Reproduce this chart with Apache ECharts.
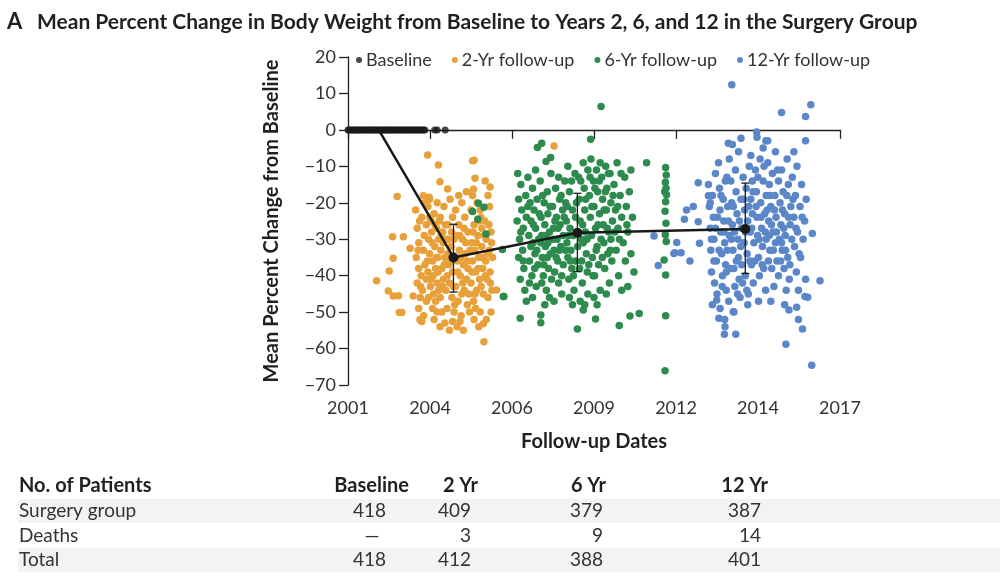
<!DOCTYPE html>
<html>
<head>
<meta charset="utf-8">
<title>Mean Percent Change in Body Weight</title>
<script src="https://cdn.jsdelivr.net/npm/echarts@6/dist/echarts.min.js"></script>
<style>
html, body { margin: 0; padding: 0; background: #fff; }
#container { width: 1000px; height: 587px; }
</style>
</head>
<body>
<div id="container"></div>
<script>
// x tick positions (evenly spaced dates), labels are rounded years
var xTicks = [2001, 2003.667, 2006.333, 2009, 2011.667, 2014.333, 2017];

var baselineX = [2001.0, 2001.04, 2001.09, 2001.13, 2001.18, 2001.22, 2001.27, 2001.31, 2001.36, 2001.4,
    2001.45, 2001.5, 2001.54, 2001.59, 2001.63, 2001.68, 2001.72, 2001.77, 2001.81, 2001.86, 2001.9,
    2001.95, 2002.0, 2002.04, 2002.09, 2002.13, 2002.18, 2002.22, 2002.27, 2002.31, 2002.36, 2002.4,
    2002.45, 2002.5, 2002.54, 2002.59, 2002.63, 2002.68, 2002.72, 2002.77, 2002.81, 2002.86, 2002.9,
    2002.95, 2003.0, 2003.04, 2003.09, 2003.13, 2003.18, 2003.22, 2003.27, 2003.31, 2003.36, 2003.4,
    2003.45, 2003.5, 2003.82, 2003.9, 2004.16];

var yr2 = [
    [2003.59,-6.9],[2003.94,-9.6],[2005.05,-8.5],[2005.1,-8.3],[2005.13,-13.3],[2003.99,-14.2],[2005.46,-14],
    [2004.24,-16.2],[2005.62,-15.7],[2005.08,-16.3],[2002.6,-18.3],[2003.45,-18.1],[2003.64,-18.5],[2002.45,-29.3],
    [2002.8,-29.3],[2003.02,-32.5],[2002.47,-35.2],[2002.34,-38.7],[2001.93,-41.4],[2002.31,-44.2],[2002.47,-45.6],
    [2002.64,-45.5],[2003.12,-45.6],[2002.67,-50.1],[2002.75,-50.1],[2003.34,-52.1],[2003.4,-52.6],[2003.99,-54],
    [2004.4,-52.6],[2004.64,-52.6],[2005.4,-53.2],[2005.42,-58.1],[2005.83,-43.9],[2007.7,-4.4],
    [2003.2,-22],[2003.25,-27],[2003.3,-31],[2003.22,-35],[2003.3,-38],[2003.25,-42],[2003.35,-46],[2003.3,-49],
    [2003.4,-24],[2003.45,-33],[2003.38,-40],[2003.42,-44],[2003.5,-20],[2003.48,-29],[2003.5,-37],[2003.46,-51],
    [2003.55,-26],[2003.55,-47],
    [2003.6,-21],[2003.62,-30],[2003.65,-34],[2003.6,-39],[2003.68,-43],[2003.7,-25],[2003.72,-28],[2003.75,-36],
    [2003.7,-41],[2003.78,-45],[2003.75,-49],[2003.8,-23],[2003.82,-32],[2003.85,-38],[2003.88,-27],[2003.9,-42],
    [2003.85,-47],[2003.92,-35],[2003.95,-30],[2003.95,-44],[2003.65,-19],[2003.9,-20],[2003.8,-52],
    [2004.0,-24],[2004.02,-33],[2004.05,-38],[2004.0,-46],[2004.08,-28],[2004.1,-41],[2004.12,-21],[2004.15,-35],
    [2004.18,-44],[2004.2,-30],[2004.22,-49],[2004.25,-26],[2004.28,-37],[2004.3,-42],[2004.32,-19],[2004.35,-32],
    [2004.38,-46],[2004.4,-24],[2004.05,-50],[2004.15,-53],[2004.3,-55],[2004.4,-39],[2004.1,-31],[2004.25,-34],
    [2004.5,-22],[2004.52,-29],[2004.55,-36],[2004.5,-43],[2004.58,-47],[2004.6,-26],[2004.62,-33],[2004.65,-40],
    [2004.68,-51],[2004.7,-20],[2004.72,-30],[2004.75,-37],[2004.78,-44],[2004.8,-24],[2004.82,-34],[2004.85,-41],
    [2004.88,-48],[2004.9,-28],[2004.9,-38],[2004.55,-54],[2004.75,-55],[2004.6,-18],[2004.85,-17],[2004.7,-45],
    [2005.0,-22],[2005.02,-31],[2005.05,-36],[2005.0,-42],[2005.08,-47],[2005.1,-26],[2005.12,-33],[2005.15,-39],
    [2005.18,-44],[2005.2,-20],[2005.22,-29],[2005.25,-35],[2005.28,-41],[2005.3,-50],[2005.32,-24],[2005.35,-32],
    [2005.38,-38],[2005.4,-45],[2005.1,-52],[2005.25,-54],[2005.35,-27],[2005.05,-18],[2005.3,-22],[2005.15,-49],
    [2005.45,-25],[2005.5,-30],[2005.48,-36],[2005.52,-41],[2005.55,-46],[2005.6,-21],[2005.6,-33],[2005.62,-39],
    [2005.65,-28],[2005.68,-44],[2005.7,-35],[2005.55,-18],[2005.65,-50],[2005.5,-52],
    [2003.28,-33],[2003.33,-25],[2003.36,-43],[2003.58,-36],[2003.62,-46],[2003.66,-24],[2003.74,-31],[2003.77,-40],
    [2003.83,-26],[2003.87,-35],[2003.93,-39],[2003.97,-25],[2004.03,-29],[2004.07,-43],[2004.13,-37],[2004.17,-26],
    [2004.23,-40],[2004.27,-30],[2004.33,-36],[2004.37,-28],[2004.43,-43],[2004.45,-30],[2004.47,-48],[2004.57,-39],
    [2004.63,-29],[2004.67,-35],[2004.73,-42],[2004.77,-27],[2004.83,-31],[2004.87,-36],[2004.93,-45],[2004.97,-33],
    [2005.03,-39],[2005.07,-28],[2005.13,-45],[2005.17,-31],[2005.23,-38],[2005.27,-25],[2005.33,-43],[2005.37,-35],
    [2005.43,-29],[2005.47,-40],[2005.53,-34],[2005.58,-26],[2005.63,-42],[2005.67,-31],[2003.9,-50],[2004.45,-50],
    [2004.95,-50],[2003.55,-41]
];

var yr6 = [
    [2005.24,-20.1],[2005.42,-21.2],[2005.05,-22.4],[2005.22,-24.5],[2005.49,-28.6],[2006.05,-45.7],[2006.02,-32.8],
    [2009.23,6.4],[2008.89,-2.6],[2007.16,-4.8],[2007.3,-3.7],[2007.44,-8.7],[2007.59,-7.6],[2010.71,-9],
    [2006.07,-45.7],[2006.6,-51.7],[2007.27,-50.8],[2007.27,-52.9],[2008.46,-54.6],[2009.05,-51.9],[2009.82,-53.7],
    [2010.17,-51.1],[2010.47,-50.4],[2008.65,-49.4],
    [2011.33,-10.3],[2011.35,-12.4],[2011.32,-14.4],[2011.34,-16],[2011.3,-17],[2011.36,-17.8],[2011.33,-19.7],
    [2011.31,-22.3],[2011.34,-25.6],[2011.32,-28.8],[2011.35,-30.6],[2011.28,-35.7],[2011.33,-39.8],[2011.33,-51],
    [2011.31,-66.1],
    [2006.52,-12],[2006.55,-19],[2006.5,-25],[2006.58,-30],[2006.55,-35],[2006.6,-41],[2006.62,-15],[2006.65,-22],
    [2006.7,-27],[2006.68,-33],[2006.72,-38],[2006.75,-44],[2006.78,-18],[2006.8,-24],[2006.8,-47],
    [2006.85,-13],[2006.88,-29],[2006.9,-36],[2006.92,-20],[2006.95,-25],[2006.98,-40],[2007.0,-16],[2007.02,-31],
    [2007.05,-22],[2007.08,-34],[2007.1,-27],[2007.12,-43],[2007.15,-19],[2007.18,-37],[2007.2,-30],[2007.0,-46],
    [2007.1,-11],[2006.95,-32],
    [2007.25,-14],[2007.28,-24],[2007.3,-29],[2007.32,-35],[2007.35,-40],[2007.38,-20],[2007.4,-26],[2007.42,-32],
    [2007.45,-44],[2007.48,-17],[2007.5,-23],[2007.52,-38],[2007.55,-28],[2007.58,-34],[2007.6,-12],[2007.4,-48],
    [2007.55,-46],[2007.3,-42],[2007.5,-31],
    [2007.65,-21],[2007.68,-27],[2007.7,-33],[2007.72,-39],[2007.75,-16],[2007.78,-24],[2007.8,-30],[2007.82,-36],
    [2007.85,-42],[2007.88,-19],[2007.9,-26],[2007.92,-32],[2007.95,-45],[2007.98,-22],[2008.0,-29],[2008.0,-37],
    [2007.7,-47],[2007.85,-13],[2007.95,-40],
    [2008.05,-14],[2008.08,-20],[2008.1,-25],[2008.12,-31],[2008.15,-35],[2008.18,-41],[2008.2,-17],[2008.22,-27],
    [2008.25,-33],[2008.28,-38],[2008.3,-22],[2008.32,-29],[2008.35,-44],[2008.38,-12],[2008.4,-24],[2008.4,-36],
    [2008.2,-46],[2008.15,-10],[2008.3,-48],
    [2008.5,-13],[2008.52,-19],[2008.55,-25],[2008.58,-30],[2008.6,-36],[2008.62,-42],[2008.65,-9],[2008.68,-16],
    [2008.7,-22],[2008.72,-28],[2008.75,-34],[2008.78,-39],[2008.8,-11],[2008.8,-45],[2008.55,-47],[2008.7,-48],
    [2008.65,-31],
    [2008.85,-18],[2008.88,-24],[2008.9,-8],[2008.92,-29],[2008.95,-35],[2008.98,-14],[2009.0,-21],[2009.02,-40],
    [2009.05,-27],[2009.08,-11],[2009.1,-32],[2009.12,-17],[2009.15,-37],[2009.18,-23],[2009.2,-44],[2009.0,-46],
    [2009.2,-9],[2009.1,-48],
    [2009.25,-13],[2009.28,-19],[2009.3,-26],[2009.32,-31],[2009.35,-38],[2009.38,-10],[2009.4,-22],[2009.42,-16],
    [2009.45,-34],[2009.48,-28],[2009.5,-42],[2009.52,-12],[2009.55,-20],[2009.58,-36],[2009.6,-25],[2009.4,-45],
    [2009.55,-30],
    [2009.65,-15],[2009.7,-22],[2009.72,-33],[2009.75,-9],[2009.78,-27],[2009.8,-40],[2009.85,-18],[2009.9,-24],
    [2009.95,-31],[2010.0,-13],[2010.02,-36],[2010.05,-21],[2010.1,-28],[2010.15,-17],[2010.2,-34],[2010.25,-24],
    [2010.3,-39],[2010.2,-11],[2009.9,-44],[2010.1,-43],
    [2006.62,-28],[2006.7,-36],[2006.85,-21],[2006.9,-42],[2007.03,-26],[2007.07,-38],[2007.14,-33],[2007.22,-23],
    [2007.27,-31],[2007.33,-18],[2007.37,-37],[2007.45,-29],[2007.48,-35],[2007.57,-21],[2007.62,-41],[2007.67,-30],
    [2007.73,-25],[2007.77,-35],[2007.83,-27],[2007.87,-33],[2007.93,-18],[2008.03,-24],[2008.07,-33],[2008.13,-21],
    [2008.17,-29],[2008.23,-36],[2008.27,-14],[2008.33,-40],[2008.43,-20],[2008.47,-32],[2008.53,-38],[2008.57,-14],
    [2008.63,-26],[2008.73,-19],[2008.77,-30],[2008.83,-37],[2008.87,-13],[2008.93,-21],[2008.97,-40],[2009.03,-16],
    [2009.07,-33],[2009.13,-26],[2009.17,-14],[2009.23,-30],[2009.27,-35],[2009.33,-22],[2009.37,-17],[2009.43,-27],
    [2009.47,-12],[2009.53,-33],[2009.62,-18],[2009.68,-28],[2009.77,-21],[2009.83,-30],[2009.88,-12],[2010.07,-26]
];

var yr12 = [
    [2010.95,-29.1],[2011.69,-30.9],[2011.6,-33.9],[2011.09,-37.2],
    [2013.48,12.4],[2015.1,4.8],[2016.05,6.9],[2015.88,3.7],[2014.29,-0.6],[2013.37,-3.7],[2013.78,-2.3],
    [2014.59,-3],[2014.65,-3],[2015.88,-3],[2012.39,-14.5],[2012.72,-18.1],[2012.01,-22],[2012.23,-21],
    [2011.94,-24.5],[2012.39,-25.2],[2011.83,-33.7],[2011.63,-33.7],[2012.12,-36],[2012.43,-31.1],[2016.1,-28.4],
    [2016.35,-41.4],[2012.99,-46.7],[2013.06,-51.7],[2013.24,-56.1],[2013.61,-56.1],[2013.26,-54],[2015.24,-58.8],
    [2016.08,-64.6],[2015.78,-54.6],[2015.65,-52],[2015.34,-49.4],[2015.59,-48.7],[2015.86,-45.7],[2015.95,-45.9],
    [2013.53,-49.9],
    [2012.72,-15],[2012.75,-21],[2012.78,-27],[2012.8,-33],[2012.82,-39],[2012.85,-18],[2012.88,-24],[2012.9,-30],
    [2012.92,-42],[2012.95,-12],[2012.98,-36],[2013.0,-45],[2012.85,-48],[2012.95,-27],
    [2013.05,-9],[2013.08,-16],[2013.1,-22],[2013.12,-28],[2013.15,-34],[2013.18,-40],[2013.2,-19],[2013.22,-25],
    [2013.25,-31],[2013.28,-37],[2013.3,-44],[2013.32,-13],[2013.35,-21],[2013.38,-47],[2013.4,-29],[2013.1,-49],
    [2013.25,-52],[2013.4,-8],[2013.3,-39],
    [2013.45,-14],[2013.48,-20],[2013.5,-26],[2013.52,-33],[2013.55,-38],[2013.58,-43],[2013.6,-11],[2013.62,-17],
    [2013.65,-23],[2013.68,-30],[2013.7,-35],[2013.72,-41],[2013.75,-46],[2013.78,-19],[2013.8,-27],[2013.55,-50],
    [2013.7,-6],[2013.8,-37],[2013.5,-4],
    [2013.85,-13],[2013.88,-31],[2013.9,-22],[2013.92,-40],[2013.95,-16],[2013.98,-34],[2014.0,-25],[2014.02,-45],
    [2014.05,-10],[2014.08,-28],[2014.1,-19],[2014.12,-37],[2014.15,-23],[2014.18,-42],[2014.2,-31],[2014.0,-48],
    [2014.15,-14],[2014.1,-7],
    [2014.25,-11],[2014.28,-17],[2014.3,-24],[2014.32,-29],[2014.35,-35],[2014.38,-40],[2014.4,-8],[2014.42,-20],
    [2014.45,-27],[2014.48,-32],[2014.5,-14],[2014.52,-38],[2014.55,-23],[2014.58,-44],[2014.6,-18],[2014.35,-47],
    [2014.5,-5],[2014.6,-30],[2014.3,-2],
    [2014.65,-9],[2014.68,-25],[2014.7,-15],[2014.72,-33],[2014.75,-21],[2014.78,-38],[2014.8,-12],[2014.82,-28],
    [2014.85,-43],[2014.88,-18],[2014.9,-31],[2014.92,-24],[2014.95,-36],[2015.0,-14],[2014.75,-47],[2014.9,-6],
    [2015.0,-40],[2014.7,-29],
    [2015.05,-20],[2015.08,-26],[2015.1,-11],[2015.12,-33],[2015.15,-17],[2015.18,-38],[2015.2,-23],[2015.22,-29],
    [2015.25,-44],[2015.28,-8],[2015.3,-35],[2015.32,-15],[2015.35,-41],[2015.38,-26],[2015.4,-21],[2015.2,-48],
    [2015.1,-31],
    [2015.45,-13],[2015.5,-24],[2015.52,-32],[2015.55,-18],[2015.58,-39],[2015.6,-10],[2015.62,-28],[2015.65,-44],
    [2015.7,-21],[2015.72,-35],[2015.75,-15],[2015.8,-30],[2015.85,-25],[2015.88,-41],[2015.5,-6],[2015.9,-19],
    [2012.78,-20],[2012.82,-30],[2012.9,-36],[2013.02,-24],[2013.07,-33],[2013.13,-18],[2013.17,-43],[2013.23,-28],
    [2013.27,-14],[2013.33,-33],[2013.37,-25],[2013.43,-38],[2013.47,-30],[2013.53,-21],[2013.57,-28],[2013.63,-36],
    [2013.67,-45],[2013.73,-25],[2013.77,-32],[2013.83,-42],[2013.87,-19],[2013.93,-28],[2013.97,-44],[2014.03,-21],
    [2014.07,-36],[2014.13,-27],[2014.17,-17],[2014.23,-36],[2014.27,-21],[2014.33,-13],[2014.37,-30],[2014.43,-24],
    [2014.47,-37],[2014.53,-10],[2014.57,-28],[2014.63,-22],[2014.67,-36],[2014.73,-18],[2014.77,-26],[2014.83,-33],
    [2014.87,-22],[2014.93,-28],[2014.97,-11],[2015.03,-30],[2015.07,-36],[2015.13,-22],[2015.17,-27],[2015.23,-33],
    [2015.27,-18],[2015.33,-24],[2015.37,-37],[2015.43,-30],[2015.47,-19],[2015.57,-27],[2015.67,-34],[2015.77,-24]
];

// mean and error bars
var meanX = [2002.0, 2004.43, 2008.46, 2013.92];
var meanY = [0, -35.0, -28.2, -27.2];
var errLow = [-44.5, -38.9, -39.4];
var errHigh = [-25.9, -17.4, -14.6];

var tableHead = ['No. of Patients', 'Baseline', '2 Yr', '6 Yr', '12 Yr'];
var tableRows = [
    ['Surgery group', '418', '409', '379', '387'],
    ['Deaths', '\u2014', '3', '9', '14'],
    ['Total', '418', '412', '388', '401']
];

var FONT = 'Lato, "Noto Sans", sans-serif';
var INK = '#231f20';
var colors = { base: '#1a1a1a', y2: '#e8a13a', y6: '#2e8b4e', y12: '#5b87c9' };

var dom = document.getElementById('container');
var myChart = echarts.init(dom);

// title and patient table
var graphics = [
    { type: 'text', left: 7, top: 11, style: { text: 'A', font: 'bold 22px ' + FONT, fill: INK } },
    { type: 'text', left: 37, top: 12, style: { text: 'Mean Percent Change in Body Weight from Baseline to Years 2, 6, and 12 in the Surgery Group', font: 'bold 21px ' + FONT, fill: INK } },
    { type: 'rect', shape: { x: 18, y: 499, width: 982, height: 24 }, style: { fill: '#f2f3f3' }, z: -1 },
    { type: 'rect', shape: { x: 18, y: 548, width: 982, height: 24 }, style: { fill: '#f2f3f3' }, z: -1 }
];
var headRight = [null, 409, 478, 606, 768];
var colRight = [null, 386, 471, 603, 761];
var rowY = [511, 536, 560];
graphics.push({ type: 'text', x: 19, y: 486, style: { text: tableHead[0], font: 'bold 20px ' + FONT, fill: INK, verticalAlign: 'middle' } });
for (var c = 1; c < tableHead.length; c++) {
    graphics.push({ type: 'text', x: headRight[c], y: 486, style: { text: tableHead[c], font: 'bold 20px ' + FONT, fill: INK, align: 'right', verticalAlign: 'middle' } });
}
tableRows.forEach(function (row, r) {
    graphics.push({ type: 'text', x: 19, y: rowY[r], style: { text: row[0], font: '19px ' + FONT, fill: '#333', verticalAlign: 'middle' } });
    for (var c = 1; c < row.length; c++) {
        var isDash = row[c] === '\u2014';
        graphics.push({ type: 'text', x: isDash ? 372 : colRight[c], y: rowY[r], style: { text: row[c], font: '19px ' + FONT, fill: '#333', align: isDash ? 'center' : 'right', verticalAlign: 'middle' } });
    }
});

var option = {
    animation: false,
    backgroundColor: '#fff',
    textStyle: { fontFamily: FONT },
    graphic: graphics,
    legend: {
        data: ['Baseline', '2-Yr follow-up', '6-Yr follow-up', '12-Yr follow-up'],
        left: 351,
        top: 46,
        icon: 'circle',
        itemWidth: 6,
        itemHeight: 6,
        itemGap: 20,
        textStyle: { fontSize: 18, color: '#333', fontFamily: FONT, padding: [0, 0, 0, -1] }
    },
    grid: { left: 348, top: 57, width: 492, height: 328 },
    xAxis: {
        type: 'value',
        min: 2001,
        max: 2017,
        name: 'Follow-up Dates',
        nameLocation: 'middle',
        nameGap: 47,
        nameTextStyle: { fontSize: 20, fontWeight: 'bold', color: INK, fontFamily: FONT },
        axisLine: { show: true, lineStyle: { color: INK, width: 1.3 } },
        axisTick: { show: true, length: 9, customValues: xTicks, lineStyle: { color: INK, width: 1.3 } },
        axisLabel: {
            customValues: xTicks,
            fontSize: 18, color: '#333', margin: 14,
            formatter: function (v) { return String(Math.round(v)); }
        },
        splitLine: { show: false }
    },
    yAxis: {
        type: 'value',
        min: -70,
        max: 20,
        interval: 10,
        name: 'Mean Percent Change from Baseline',
        nameLocation: 'middle',
        nameGap: 66,
        nameTextStyle: { fontSize: 20, fontWeight: 'bold', color: INK, fontFamily: FONT },
        axisLine: { show: true, lineStyle: { color: INK, width: 1.3 } },
        axisTick: { show: true, length: 9, lineStyle: { color: INK, width: 1.3 } },
        axisLabel: {
            fontSize: 18, color: '#333', margin: 12,
            formatter: function (v) { return String(v).replace('-', '\u2212'); }
        },
        splitLine: { show: false }
    },
    series: [
        {
            name: '2-Yr follow-up', type: 'scatter', symbolSize: 7.5, data: yr2,
            itemStyle: { color: colors.y2, opacity: 1 }
        },
        {
            name: '6-Yr follow-up', type: 'scatter', symbolSize: 7.5, data: yr6,
            itemStyle: { color: colors.y6, opacity: 1 }
        },
        {
            name: '12-Yr follow-up', type: 'scatter', symbolSize: 7.5, data: yr12,
            itemStyle: { color: colors.y12, opacity: 1 }
        },
        {
            name: 'Baseline', type: 'scatter', symbolSize: 7,
            data: baselineX.map(function (x) { return [x, 0]; }),
            itemStyle: { color: colors.base }
        },
        {
            name: 'mean', type: 'line', z: 5,
            data: meanX.map(function (x, i) {
                return i === 0 ? { value: [x, meanY[i]], symbol: 'none' } : [x, meanY[i]];
            }),
            symbol: 'circle', symbolSize: 10, showSymbol: true,
            lineStyle: { color: '#1a1a1a', width: 2.5 },
            itemStyle: { color: '#1a1a1a' }
        },
        {
            name: 'error', type: 'custom', z: 6,
            data: errLow.map(function (lo, i) { return [meanX[i + 1], lo, errHigh[i]]; }),
            renderItem: function (params, api) {
                var lo = api.coord([api.value(0), api.value(1)]);
                var hi = api.coord([api.value(0), api.value(2)]);
                var cap = 4;
                var st = { stroke: '#1a1a1a', lineWidth: 1.3 };
                return {
                    type: 'group',
                    children: [
                        { type: 'line', shape: { x1: lo[0], y1: lo[1], x2: hi[0], y2: hi[1] }, style: st },
                        { type: 'line', shape: { x1: lo[0] - cap, y1: lo[1], x2: lo[0] + cap, y2: lo[1] }, style: st },
                        { type: 'line', shape: { x1: hi[0] - cap, y1: hi[1], x2: hi[0] + cap, y2: hi[1] }, style: st }
                    ]
                };
            }
        }
    ]
};

if (option && typeof option === 'object') {
    myChart.setOption(option, true);
}
</script>
</body>
</html>
